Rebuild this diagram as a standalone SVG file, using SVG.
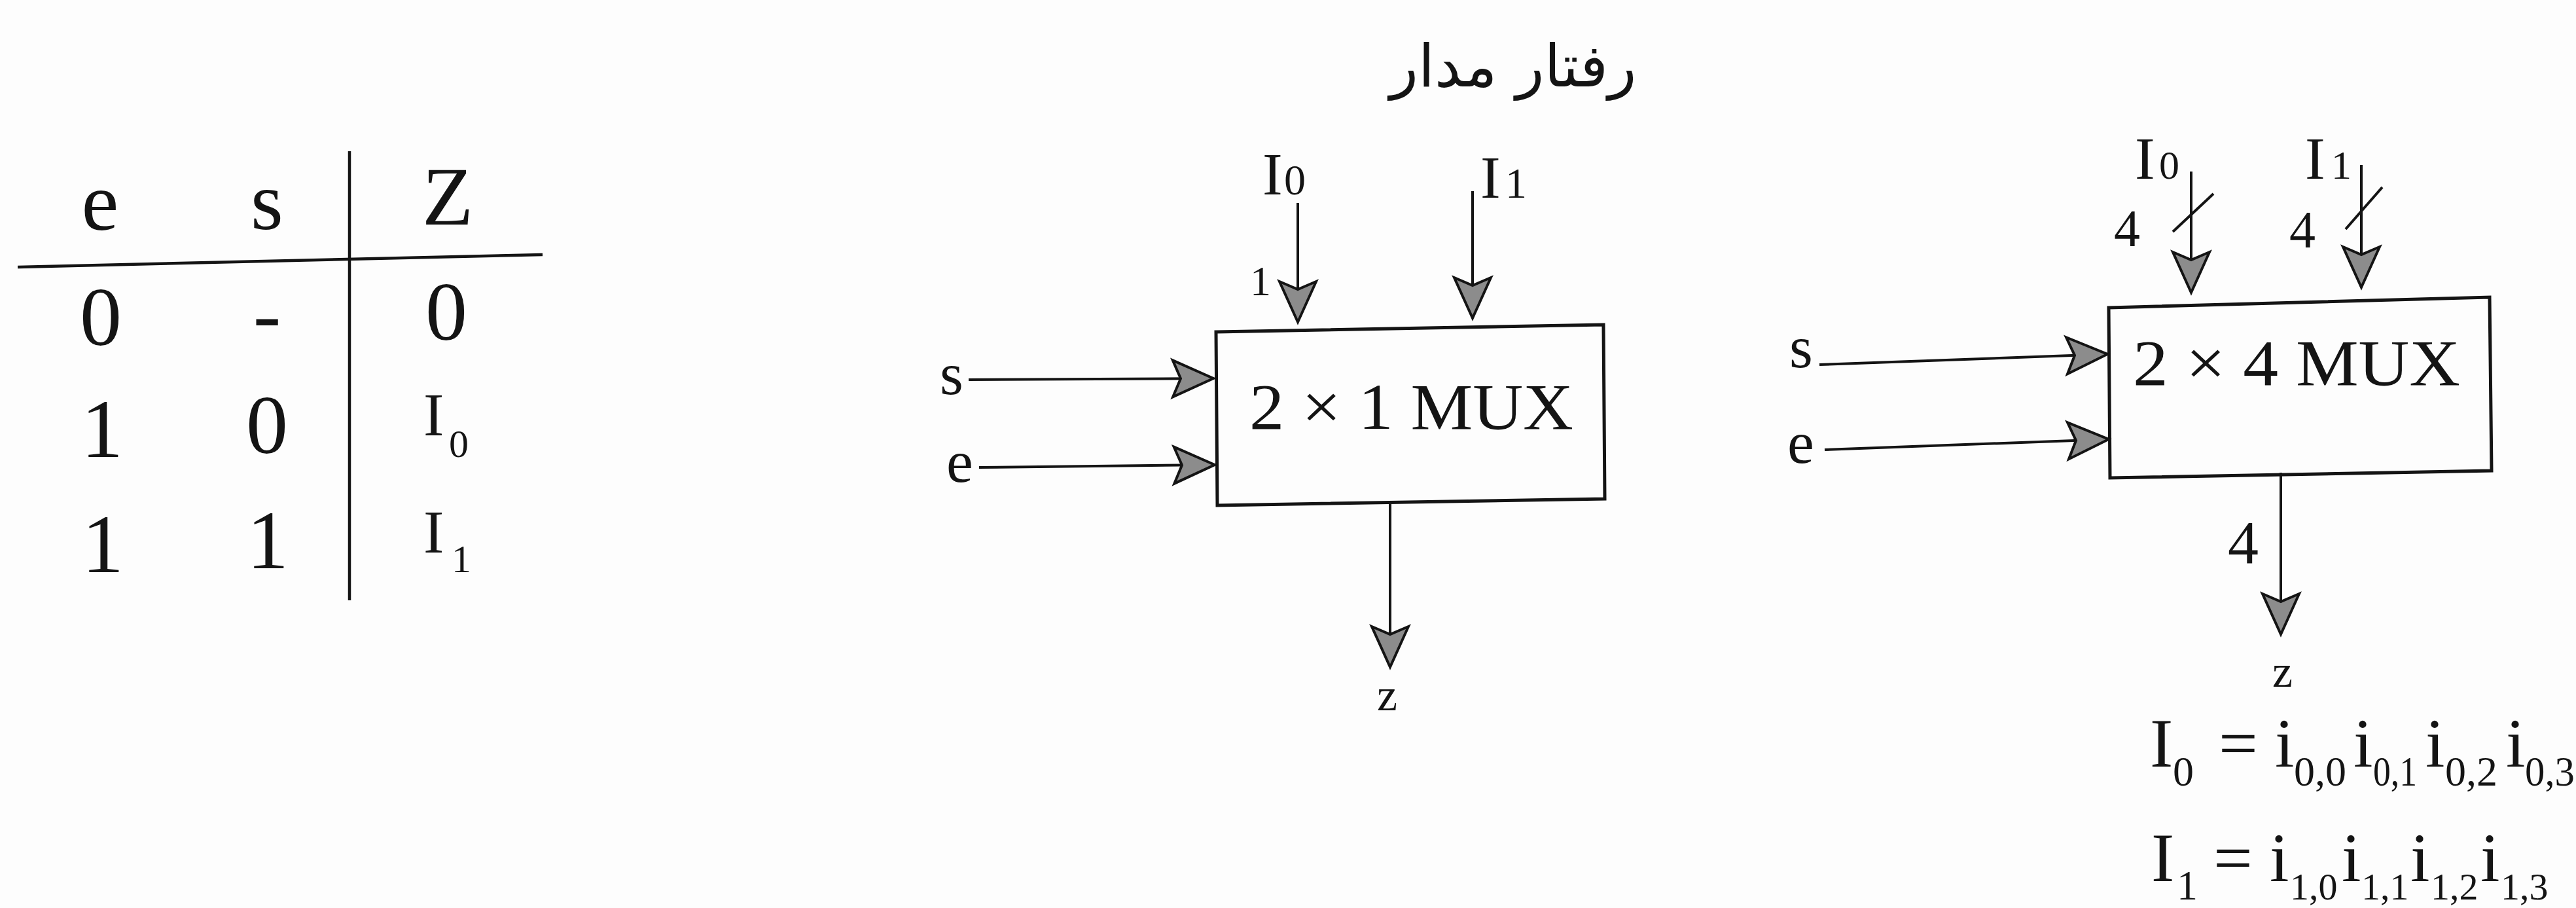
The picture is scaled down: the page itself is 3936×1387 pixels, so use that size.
<svg xmlns="http://www.w3.org/2000/svg" width="3936" height="1387" viewBox="0 0 3936 1387">
<style>
.t{font-family:"Liberation Serif","Times New Roman",serif;fill:#141414}
.ln{stroke:#141414;stroke-width:4.5;fill:none}
.box{stroke:#141414;stroke-width:5;fill:none}
.ar{stroke:#141414;stroke-width:4;fill:none}
.fa{font-family:"DejaVu Sans","Noto Sans",sans-serif;fill:#141414}
.m{font-size:106px}
.sb{font-size:64px}
.sb2{font-size:58px}
</style>
<defs>
<marker id="arr" markerUnits="userSpaceOnUse" markerWidth="72" markerHeight="66" refX="66" refY="32" orient="auto">
<path d="M4,4 L66,32 L4,60 L16,32 Z" fill="#8c8c8c" stroke="#141414" stroke-width="4" stroke-linejoin="miter"/>
</marker>
</defs>
<rect width="3936" height="1387" fill="#fdfdfd"/>

<g id="title">
<text class="fa" x="2312" y="132" font-size="90" text-anchor="middle">رفتار مدار</text>
</g>

<g id="truth-table">
<line class="ln" x1="534" y1="231" x2="534" y2="917"/>
<line class="ln" x1="27" y1="408" x2="829" y2="389"/>
<g class="t" font-size="128" text-anchor="middle">
<text x="153" y="351">e</text>
<text x="408" y="350">s</text>
<text x="684" y="343">Z</text>
<text x="154" y="527">0</text>
<text x="408" y="522">-</text>
<text x="682" y="519">0</text>
<text x="156" y="698">1</text>
<text x="408" y="692">0</text>
<text x="157" y="874">1</text>
<text x="409" y="868">1</text>
</g>
<text class="t" x="647" y="665" font-size="94">I<tspan x="686" y="698" font-size="60">0</tspan></text>
<text class="t" x="647" y="844" font-size="94">I<tspan x="690" y="874" font-size="60">1</tspan></text>
</g>

<g id="mux2x1">
<path class="box" d="M1858,507 L2450,496 L2452,762 L1860,772 Z"/>
<text class="t" x="1909" y="655" font-size="100" textLength="495" lengthAdjust="spacingAndGlyphs">2 × 1 MUX</text>
</g>
<g id="mux2x1-labels" class="t">
<text x="1929" y="297" font-size="92">I<tspan x="1962" font-size="66">0</tspan></text>
<text x="2262" y="302" font-size="92">I<tspan x="2300" font-size="66">1</tspan></text>
<text x="1910" y="451" font-size="64">1</text>
<text x="1436" y="602" font-size="92">s</text>
<text x="1446" y="736" font-size="92">e</text>
<text x="2104" y="1085" font-size="70">z</text>
</g>

<g id="mux2x4">
<path class="box" d="M3222,470 L3804,454 L3807,719 L3224,730 Z"/>
<text class="t" x="3259" y="588" font-size="100" textLength="500" lengthAdjust="spacingAndGlyphs">2 × 4 MUX</text>
</g>
<g id="mux2x4-labels" class="t">
<text x="3262" y="273" font-size="92">I<tspan x="3299" font-size="62">0</tspan></text>
<text x="3522" y="273" font-size="92">I<tspan x="3562" font-size="62">1</tspan></text>
<text x="3230" y="376" font-size="80">4</text>
<text x="3498" y="378" font-size="80">4</text>
<text x="3404" y="860" font-size="94">4</text>
<text x="2734" y="561" font-size="92">s</text>
<text x="2731" y="707" font-size="92">e</text>
<text x="3472" y="1049" font-size="70">z</text>
</g>

<g id="equations" class="t">
<text class="m" x="3285" y="1171">I</text>
<text class="sb" x="3320" y="1200">0</text>
<text class="m" x="3390" y="1171">=</text>
<text class="m" x="3476" y="1171">i</text>
<text class="sb" x="3505" y="1200" textLength="80" lengthAdjust="spacingAndGlyphs">0,0</text>
<text class="m" x="3596" y="1171">i</text>
<text class="sb" x="3626" y="1200" textLength="67" lengthAdjust="spacingAndGlyphs">0,1</text>
<text class="m" x="3706" y="1171">i</text>
<text class="sb" x="3736" y="1200" textLength="80" lengthAdjust="spacingAndGlyphs">0,2</text>
<text class="m" x="3829" y="1171">i</text>
<text class="sb" x="3858" y="1200" textLength="76" lengthAdjust="spacingAndGlyphs">0,3</text>

<text class="m" x="3287" y="1346">I</text>
<text class="sb" x="3326" y="1374">1</text>
<text class="m" x="3382" y="1346">=</text>
<text class="m" x="3468" y="1346">i</text>
<text class="sb2" x="3499" y="1374">1,0</text>
<text class="m" x="3578" y="1346">i</text>
<text class="sb2" x="3608" y="1374">1,1</text>
<text class="m" x="3683" y="1346">i</text>
<text class="sb2" x="3714" y="1374">1,2</text>
<text class="m" x="3790" y="1346">i</text>
<text class="sb2" x="3821" y="1374">1,3</text>
</g>

<g id="connectors">
<line class="ar" x1="1480" y1="580" x2="1854" y2="578" marker-end="url(#arr)"/>
<line class="ar" x1="1496" y1="714" x2="1856" y2="710" marker-end="url(#arr)"/>
<line class="ar" x1="1983" y1="310" x2="1983" y2="492" marker-end="url(#arr)"/>
<line class="ar" x1="2250" y1="292" x2="2250" y2="486" marker-end="url(#arr)"/>
<line class="ar" x1="2124" y1="770" x2="2124" y2="1019" marker-end="url(#arr)"/>
<line class="ar" x1="2780" y1="557" x2="3220" y2="541" marker-end="url(#arr)"/>
<line class="ar" x1="2788" y1="687" x2="3222" y2="671" marker-end="url(#arr)"/>
<line class="ar" x1="3348" y1="262" x2="3348" y2="447" marker-end="url(#arr)"/>
<line class="ar" x1="3608" y1="252" x2="3608" y2="439" marker-end="url(#arr)"/>
<line class="ar" x1="3485" y1="722" x2="3485" y2="969" marker-end="url(#arr)"/>
<line class="ar" x1="3320" y1="354" x2="3382" y2="296"/>
<line class="ar" x1="3584" y1="350" x2="3640" y2="286"/>
</g>
</svg>
